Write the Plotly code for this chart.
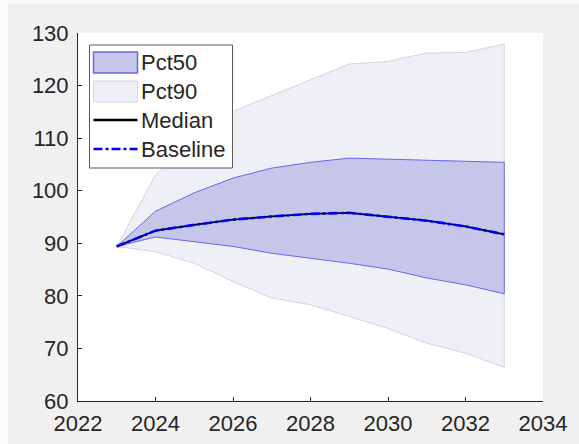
import plotly.graph_objects as go

# Projection years and fan-chart bands
years = [2023, 2024, 2025, 2026, 2027, 2028, 2029, 2030, 2031, 2032, 2033]

pct90_upper = [89.4, 103.0, 109.3, 115.1, 118.1, 121.1, 124.1, 124.6, 126.2, 126.3, 127.9]
pct90_lower = [89.4, 88.4, 86.2, 82.7, 79.6, 78.3, 76.1, 73.8, 71.0, 69.1, 66.4]

pct50_upper = [89.4, 96.1, 99.6, 102.4, 104.3, 105.4, 106.2, 106.0, 105.7, 105.5, 105.4]
pct50_lower = [89.4, 91.2, 90.3, 89.4, 88.1, 87.2, 86.2, 85.1, 83.4, 82.1, 80.4]

median = [89.4, 92.4, 93.5, 94.5, 95.1, 95.6, 95.8, 95.1, 94.3, 93.2, 91.7]
baseline = [89.4, 92.4, 93.5, 94.5, 95.1, 95.6, 95.8, 95.1, 94.3, 93.2, 91.7]

legend_labels = ["Pct50", "Pct90", "Median", "Baseline"]

FONT = "Liberation Sans, Arial, Helvetica, sans-serif"
TXT = "#262626"
FS = 22

P50_FILL, P50_EDGE = "rgb(198,198,234)", "rgb(104,104,232)"
P90_FILL, P90_EDGE = "rgb(239,239,246)", "rgb(212,212,232)"

# figure geometry (pixels)
W, H = 579, 444
ML, MR, MT, MB = 78, 36, 33, 43
PW, PH = W - ML - MR, H - MT - MB


def px(xp):
    return (xp - ML) / PW


def py(yp):
    return (H - MB - yp) / PH


fig = go.Figure()

fig.add_trace(go.Scatter(
    x=years + years[::-1], y=pct90_upper + pct90_lower[::-1],
    fill="toself", fillcolor=P90_FILL, line=dict(color=P90_EDGE, width=1),
    mode="lines", name="Pct90", showlegend=False, hoverinfo="skip",
))
fig.add_trace(go.Scatter(
    x=years + years[::-1], y=pct50_upper + pct50_lower[::-1],
    fill="toself", fillcolor=P50_FILL, line=dict(color=P50_EDGE, width=1),
    mode="lines", name="Pct50", showlegend=False, hoverinfo="skip",
))
fig.add_trace(go.Scatter(
    x=years, y=median, mode="lines",
    line=dict(color="black", width=1.8), name="Median", showlegend=False,
))
fig.add_trace(go.Scatter(
    x=years, y=baseline, mode="lines",
    line=dict(color="rgb(0,0,255)", width=2.6, dash="dashdot"),
    name="Baseline", showlegend=False,
))

shapes = []
annotations = []

# window frame strips around the grey figure area
shapes.append(dict(type="rect", xref="paper", yref="paper", layer="above",
                   x0=px(0), x1=px(W), y0=py(3.5), y1=py(0),
                   fillcolor="#fbfbfb", line=dict(width=0)))
shapes.append(dict(type="rect", xref="paper", yref="paper", layer="above",
                   x0=px(0), x1=px(8), y0=py(H), y1=py(0),
                   fillcolor="#fbfbfb", line=dict(width=0)))

# legend box
LX0, LX1, LY0, LY1 = 89.5, 232.5, 45, 168
shapes.append(dict(type="rect", xref="paper", yref="paper", layer="above",
                   x0=px(LX0), x1=px(LX1), y0=py(LY1), y1=py(LY0),
                   fillcolor="white", line=dict(color="#5a5a5a", width=1)))

SX0, SX1 = 93.5, 137.5
row_y = [62.5, 91.5, 120, 149]

# patch symbols
for yc, fc, ec, lw in [(row_y[0], P50_FILL, P50_EDGE, 1.5),
                       (row_y[1], P90_FILL, P90_EDGE, 1)]:
    shapes.append(dict(type="rect", xref="paper", yref="paper", layer="above",
                       x0=px(SX0), x1=px(SX1), y0=py(yc + 10.5), y1=py(yc - 10.5),
                       fillcolor=fc, line=dict(color=ec, width=lw)))
# line symbols
shapes.append(dict(type="line", xref="paper", yref="paper", layer="above",
                   x0=px(SX0), x1=px(SX1), y0=py(row_y[2]), y1=py(row_y[2]),
                   line=dict(color="black", width=2.5)))
shapes.append(dict(type="line", xref="paper", yref="paper", layer="above",
                   x0=px(SX0), x1=px(SX1), y0=py(row_y[3]), y1=py(row_y[3]),
                   line=dict(color="rgb(0,0,255)", width=2.5, dash="dashdot")))

for label, yc in zip(legend_labels, row_y):
    annotations.append(dict(
        text=label, xref="paper", yref="paper", x=px(138.5), y=py(yc),
        xanchor="left", yanchor="middle", showarrow=False,
        font=dict(family=FONT, size=FS, color=TXT),
    ))

fig.update_layout(
    width=W, height=H,
    margin=dict(l=ML, r=MR, t=MT, b=MB, autoexpand=False),
    paper_bgcolor="#f0f0f0",
    plot_bgcolor="white",
    font=dict(family=FONT, size=FS, color=TXT),
    showlegend=False,
    shapes=shapes,
    annotations=annotations,
    xaxis=dict(
        range=[2022, 2034], dtick=2, tick0=2022,
        showgrid=False, zeroline=False, automargin=False,
        showline=True, linecolor=TXT, linewidth=1,
        ticks="inside", ticklen=4, tickcolor=TXT,
        tickfont=dict(family=FONT, size=FS, color=TXT),
        ticklabelstandoff=3,
    ),
    yaxis=dict(
        range=[60, 130], dtick=10, tick0=60,
        showgrid=False, zeroline=False, automargin=False,
        showline=True, linecolor=TXT, linewidth=1,
        ticks="inside", ticklen=4, tickcolor=TXT,
        tickfont=dict(family=FONT, size=FS, color=TXT),
        ticklabelstandoff=4,
    ),
)

fig.write_html("out.html")
